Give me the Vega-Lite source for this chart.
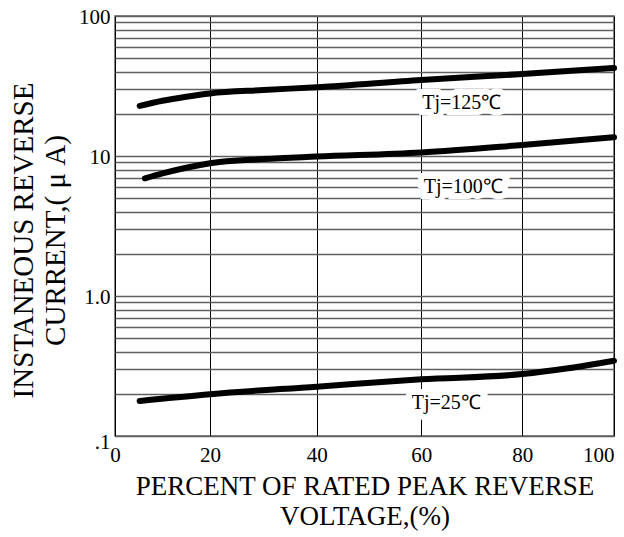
{
  "$schema": "https://vega.github.io/schema/vega-lite/v6.json",
  "autosize": {"type": "none"},
  "padding": {"left": 115, "top": 16, "right": 10, "bottom": 101},
  "width": 499,
  "height": 420,
  "background": "white",
  "config": {
    "view": {"stroke": "#606060", "strokeWidth": 1.5},
    "font": "Liberation Serif",
    "axis": {"labelFont": "Liberation Serif", "titleFont": "Liberation Serif"},
    "style": {
      "guide-label": {"font": "Liberation Serif"},
      "guide-title": {"font": "Liberation Serif"}
    },
    "text": {"font": "Liberation Serif"}
  },
  "datasets": {
    "curves": [
      {"series": "125", "pct": 5.2, "current": 22.8},
      {"series": "125", "pct": 10, "current": 24.8},
      {"series": "125", "pct": 15, "current": 26.5},
      {"series": "125", "pct": 20, "current": 28.0},
      {"series": "125", "pct": 30, "current": 29.6},
      {"series": "125", "pct": 40, "current": 31.0},
      {"series": "125", "pct": 60, "current": 34.9},
      {"series": "125", "pct": 80, "current": 38.5},
      {"series": "125", "pct": 100, "current": 42.5},
      {"series": "100", "pct": 6.3, "current": 6.93},
      {"series": "100", "pct": 10, "current": 7.52},
      {"series": "100", "pct": 15, "current": 8.25},
      {"series": "100", "pct": 20, "current": 8.87},
      {"series": "100", "pct": 30, "current": 9.5},
      {"series": "100", "pct": 40, "current": 9.9},
      {"series": "100", "pct": 60, "current": 10.6},
      {"series": "100", "pct": 80, "current": 12.0},
      {"series": "100", "pct": 100, "current": 13.6},
      {"series": "25", "pct": 5.2, "current": 0.178},
      {"series": "25", "pct": 20, "current": 0.199},
      {"series": "25", "pct": 40, "current": 0.225},
      {"series": "25", "pct": 60, "current": 0.254},
      {"series": "25", "pct": 80, "current": 0.277},
      {"series": "25", "pct": 90, "current": 0.305},
      {"series": "25", "pct": 100, "current": 0.345}
    ],
    "labels": [
      {"label": "Tj=125℃", "pct": 60, "current": 24.1},
      {"label": "Tj=100℃", "pct": 60.3, "current": 5.96},
      {"label": "Tj=25℃", "pct": 58.0, "current": 0.1726}
    ]
  },
  "layer": [
    {
      "data": {"name": "curves"},
      "mark": {"type": "line", "color": "black", "strokeWidth": 6, "strokeCap": "round", "interpolate": "monotone"},
      "encoding": {
        "x": {
          "field": "pct", "type": "quantitative",
          "scale": {"domain": [0, 20, 40, 60, 80, 100], "range": [0, 95, 201.8, 306.2, 407.2, 499], "zero": false, "nice": false},
          "axis": {
            "values": [0, 20, 40, 60, 80, 100],
            "title": ["PERCENT OF RATED PEAK REVERSE", "VOLTAGE,(%)"],
            "titleFont": "Liberation Serif", "titleFontSize": 27, "titleFontWeight": "normal", "titleColor": "black",
            "titleLineHeight": 30, "titleBaseline": "top", "titleY": 37, "titleAlign": "center",
            "labelFont": "Liberation Serif", "labelFontSize": 21, "labelColor": "black", "labelPadding": 8,
            "labelAlign": {"expr": "datum.value == 100 ? 'right' : 'center'"},
            "labelFlush": false,
            "ticks": false, "domain": false,
            "grid": true, "gridColor": "black", "gridWidth": 1, "gridOpacity": 1
          }
        },
        "y": {
          "field": "current", "type": "quantitative",
          "scale": {"type": "log", "domain": [0.1, 100], "nice": false},
          "axis": {
            "values": [0.1, 0.2, 0.3, 0.4, 0.5, 0.6, 0.7, 0.8, 0.9, 1, 2, 3, 4, 5, 6, 7, 8, 9, 10, 20, 30, 40, 50, 60, 70, 80, 90, 100],
            "labelExpr": "datum.value == 100 ? '100' : datum.value == 10 ? '10' : datum.value == 1 ? '1.0' : datum.value == 0.1 ? '.1' : ''",
            "title": ["INSTANEOUS REVERSE", "CURRENT,( μ A)"],
            "titleFont": "Liberation Serif", "titleFontSize": 29, "titleFontWeight": "normal", "titleColor": "black",
            "titleLineHeight": 32, "titleBaseline": "top", "titleX": -106, "titleY": 224, "titleAlign": "center", "titleAngle": -90,
            "labelFont": "Liberation Serif", "labelFontSize": 21, "labelColor": "black", "labelPadding": 5,
            "labelOffset": {"expr": "datum.value == 0.1 ? 6 : 1"},
            "labelFlush": false, "labelOverlap": false,
            "ticks": false, "domain": false,
            "grid": true, "gridColor": "#606060", "gridWidth": 1.4, "gridOpacity": 1
          }
        },
        "detail": {"field": "series", "type": "nominal"}
      }
    },
    {
      "data": {"name": "labels"},
      "mark": {"type": "text", "align": "left", "baseline": "middle", "dx": 1, "font": "Liberation Serif", "fontSize": 20, "color": "white", "stroke": "white", "strokeWidth": 12, "strokeJoin": "miter"},
      "encoding": {
        "x": {"field": "pct", "type": "quantitative"},
        "y": {"field": "current", "type": "quantitative"},
        "text": {"field": "label"}
      }
    },
    {
      "data": {"name": "labels"},
      "mark": {"type": "text", "align": "left", "baseline": "middle", "dx": 1, "font": "Liberation Serif", "fontSize": 20, "color": "black"},
      "encoding": {
        "x": {"field": "pct", "type": "quantitative"},
        "y": {"field": "current", "type": "quantitative"},
        "text": {"field": "label"}
      }
    }
  ]
}
